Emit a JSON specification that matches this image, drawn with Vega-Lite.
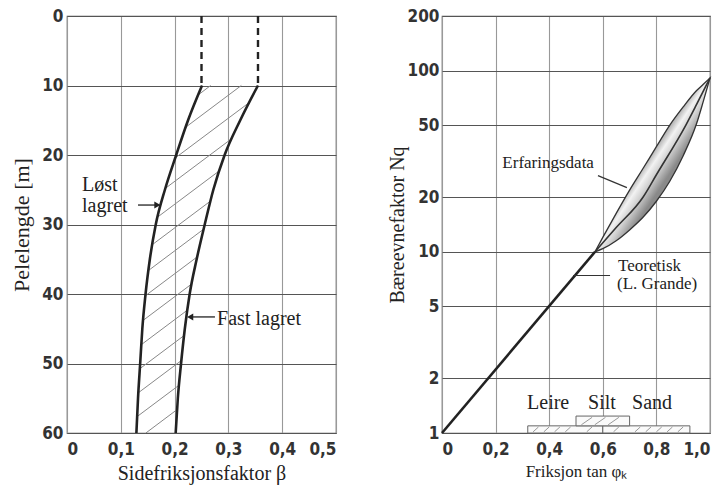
{
  "$schema": "https://vega.github.io/schema/vega-lite/v6.json",
  "background": "white",
  "padding": {"left": 10, "top": 6, "right": 5, "bottom": 5},
  "spacing": 49,
  "config": {
    "view": {"stroke": "#555", "strokeWidth": 1.2},
    "axis": {
      "labelFont": "DejaVu Sans Condensed",
      "labelFontSize": 17,
      "labelFontWeight": "bold",
      "labelColor": "#333",
      "titleFont": "Liberation Serif",
      "titleFontWeight": "normal",
      "titleColor": "#222",
      "ticks": false,
      "domain": false,
      "gridWidth": 1.1
    },
    "text": {"font": "Liberation Serif", "color": "#222"}
  },
  "hconcat": [
    {
      "width": 269,
      "height": 417,
      "encoding": {
        "x": {
          "field": "x", "type": "quantitative",
          "scale": {"domain": [0, 0.5], "nice": false, "zero": false},
          "axis": {
            "values": [0, 0.1, 0.2, 0.3, 0.4, 0.5],
            "labelExpr": "datum.value == 0 ? '0' : replace(format(datum.value, '.1f'), '.', ',')",
            "title": "Sidefriksjonsfaktor β",
            "titleFontSize": 20,
            "labelPadding": 8,
            "titlePadding": 6,
            "gridColor": "#999"
          }
        },
        "y": {
          "field": "y", "type": "quantitative",
          "scale": {"domain": [0, 60], "reverse": true, "nice": false, "zero": false},
          "axis": {
            "values": [0, 10, 20, 30, 40, 50, 60],
            "title": "Pelelengde [m]",
            "titleFontSize": 22,
            "labelPadding": 4,
            "titlePadding": 8,
            "gridColor": "#555"
          }
        }
      },
      "layer": [
        {
          "data": {"values": [
            {"x": 0.244, "y": 11.35, "x2": 0.267, "y2": 10},
            {"x": 0.2207, "y": 16.0, "x2": 0.324, "y2": 10},
            {"x": 0.201, "y": 20.44, "x2": 0.339, "y2": 12.44},
            {"x": 0.183, "y": 24.79, "x2": 0.307, "y2": 17.6},
            {"x": 0.1686, "y": 28.92, "x2": 0.2834, "y2": 22.26},
            {"x": 0.1586, "y": 32.9, "x2": 0.2669, "y2": 26.62},
            {"x": 0.1514, "y": 36.62, "x2": 0.254, "y2": 30.67},
            {"x": 0.1457, "y": 40.25, "x2": 0.242, "y2": 34.66},
            {"x": 0.1414, "y": 43.8, "x2": 0.2317, "y2": 38.56},
            {"x": 0.1381, "y": 47.29, "x2": 0.2238, "y2": 42.32},
            {"x": 0.1355, "y": 50.74, "x2": 0.2176, "y2": 45.98},
            {"x": 0.1328, "y": 54.2, "x2": 0.2126, "y2": 49.57},
            {"x": 0.1305, "y": 57.63, "x2": 0.2083, "y2": 53.12},
            {"x": 0.1466, "y": 60, "x2": 0.2048, "y2": 56.62}
          ]},
          "mark": {"type": "rule", "color": "#888", "strokeWidth": 1},
          "encoding": {"x2": {"field": "x2"}, "y2": {"field": "y2"}}
        },
        {
          "data": {"values": [
            {"c": "Løst", "y": 10, "x": 0.251},
            {"c": "Løst", "y": 15, "x": 0.225},
            {"c": "Løst", "y": 20, "x": 0.203},
            {"c": "Løst", "y": 25, "x": 0.182},
            {"c": "Løst", "y": 30, "x": 0.165},
            {"c": "Løst", "y": 35, "x": 0.154},
            {"c": "Løst", "y": 40, "x": 0.146},
            {"c": "Løst", "y": 45, "x": 0.140},
            {"c": "Løst", "y": 50, "x": 0.136},
            {"c": "Løst", "y": 55, "x": 0.132},
            {"c": "Løst", "y": 60, "x": 0.129},
            {"c": "Fast", "y": 10, "x": 0.355},
            {"c": "Fast", "y": 15, "x": 0.322},
            {"c": "Fast", "y": 20, "x": 0.293},
            {"c": "Fast", "y": 25, "x": 0.272},
            {"c": "Fast", "y": 30, "x": 0.256},
            {"c": "Fast", "y": 35, "x": 0.241},
            {"c": "Fast", "y": 40, "x": 0.228},
            {"c": "Fast", "y": 45, "x": 0.219},
            {"c": "Fast", "y": 50, "x": 0.212},
            {"c": "Fast", "y": 55, "x": 0.206},
            {"c": "Fast", "y": 60, "x": 0.202}
          ]},
          "mark": {"type": "line", "color": "#222", "strokeWidth": 2.6, "interpolate": "monotone"},
          "encoding": {"detail": {"field": "c"}, "order": {"field": "y", "type": "quantitative"}}
        },
        {
          "data": {"values": [
            {"x": 0.25, "y": 0, "y2": 10},
            {"x": 0.355, "y": 0, "y2": 10}
          ]},
          "mark": {"type": "rule", "color": "#222", "strokeWidth": 2.4, "strokeDash": [7, 5]},
          "encoding": {"y2": {"field": "y2"}}
        },
        {
          "data": {"values": [
            {"x": 0.132, "x2": 0.166, "y": 27.2},
            {"x": 0.275, "x2": 0.232, "y": 43.3}
          ]},
          "mark": {"type": "rule", "color": "#222", "strokeWidth": 1.3},
          "encoding": {"x2": {"field": "x2"}}
        },
        {
          "data": {"values": [
            {"x": 0.168, "y": 27.2, "s": "triangle-right"},
            {"x": 0.229, "y": 43.3, "s": "triangle-left"}
          ]},
          "mark": {"type": "point", "filled": true, "color": "#222", "size": 50, "opacity": 1},
          "encoding": {"shape": {"field": "s", "type": "nominal", "scale": null, "legend": null}}
        },
        {
          "data": {"values": [
            {"x": 0.028, "y": 24.3, "t": "Løst"},
            {"x": 0.028, "y": 27.4, "t": "lagret"},
            {"x": 0.279, "y": 43.6, "t": "Fast lagret"}
          ]},
          "mark": {"type": "text", "align": "left", "baseline": "middle", "fontSize": 20},
          "encoding": {"text": {"field": "t"}}
        }
      ]
    },
    {
      "width": 268,
      "height": 417,
      "encoding": {
        "x": {
          "field": "x", "type": "quantitative",
          "scale": {"domain": [0, 1], "nice": false, "zero": false},
          "axis": {
            "values": [0, 0.2, 0.4, 0.6, 0.8, 1.0],
            "labelExpr": "datum.value == 0 ? '0' : replace(format(datum.value, '.1f'), '.', ',')",
            "title": "Friksjon tan φₖ",
            "titleFontSize": 17,
            "labelPadding": 8,
            "titlePadding": 6,
            "gridColor": "#999"
          }
        },
        "y": {
          "field": "y", "type": "quantitative",
          "scale": {"type": "log", "domain": [1, 200], "nice": false},
          "axis": {
            "values": [1, 2, 5, 10, 20, 50, 100, 200],
            "format": "d",
            "title": "Bæreevnefaktor Nq",
            "titleFontSize": 20,
            "labelPadding": 3,
            "titlePadding": 0,
            "gridColor": "#555"
          }
        }
      },
      "layer": [
        {
          "data": {"values": [
            {"x": 0.571, "y": 10, "y2": 10},
            {"x": 0.6, "y": 12.0, "y2": 10.4},
            {"x": 0.65, "y": 16.3, "y2": 11.5},
            {"x": 0.7, "y": 21.9, "y2": 13.2},
            {"x": 0.75, "y": 28.8, "y2": 15.5},
            {"x": 0.8, "y": 38, "y2": 19.0},
            {"x": 0.85, "y": 50, "y2": 24.5},
            {"x": 0.9, "y": 63, "y2": 33.9},
            {"x": 0.95, "y": 77.6, "y2": 51},
            {"x": 0.975, "y": 84, "y2": 67.6},
            {"x": 1.0, "y": 91, "y2": 91}
          ]},
          "mark": {
            "type": "area",
            "interpolate": "monotone",
            "stroke": "#333",
            "strokeWidth": 1.3,
            "opacity": 1,
            "fill": {
              "gradient": "linear", "x1": 0, "y1": 0, "x2": 1, "y2": 1,
              "stops": [
                {"offset": 0, "color": "#555555"},
                {"offset": 0.4, "color": "#777777"},
                {"offset": 0.47, "color": "#bdbdbd"},
                {"offset": 0.5, "color": "#f2f2f2"},
                {"offset": 0.54, "color": "#d0d0d0"},
                {"offset": 0.6, "color": "#8a8a8a"},
                {"offset": 1, "color": "#666666"}
              ]
            }
          },
          "encoding": {"y2": {"field": "y2"}}
        },
        {
          "data": {"values": [
            {"x": 0, "y": 1},
            {"x": 0.571, "y": 10}
          ]},
          "mark": {"type": "line", "color": "#222", "strokeWidth": 2.6},
          "encoding": {}
        },
        {
          "data": {"values": [
            {"x": 0.571, "y": 10},
            {"x": 0.65, "y": 13.6},
            {"x": 0.75, "y": 20},
            {"x": 0.8, "y": 26.6},
            {"x": 0.91, "y": 50},
            {"x": 0.95, "y": 65},
            {"x": 1.0, "y": 91}
          ]},
          "mark": {"type": "line", "color": "#333", "strokeWidth": 1.6, "interpolate": "monotone"},
          "encoding": {}
        },
        {
          "data": {"values": [
            {"x": 0.32, "x2": 0.6, "y": 1, "y2": 1.095},
            {"x": 0.6, "x2": 0.925, "y": 1, "y2": 1.095},
            {"x": 0.5, "x2": 0.7, "y": 1.095, "y2": 1.24}
          ]},
          "mark": {"type": "rect", "fill": "#fafafa", "stroke": "#666", "strokeWidth": 1},
          "encoding": {"x2": {"field": "x2"}, "y2": {"field": "y2"}}
        },
        {
          "data": {"values": [
            {"x": 0.34, "y": 1.015, "x2": 0.36, "y2": 1.08},
            {"x": 0.38, "y": 1.015, "x2": 0.40, "y2": 1.08},
            {"x": 0.42, "y": 1.015, "x2": 0.44, "y2": 1.08},
            {"x": 0.46, "y": 1.015, "x2": 0.48, "y2": 1.08},
            {"x": 0.54, "y": 1.015, "x2": 0.56, "y2": 1.08},
            {"x": 0.64, "y": 1.015, "x2": 0.66, "y2": 1.08},
            {"x": 0.72, "y": 1.015, "x2": 0.74, "y2": 1.08},
            {"x": 0.76, "y": 1.015, "x2": 0.78, "y2": 1.08},
            {"x": 0.80, "y": 1.015, "x2": 0.82, "y2": 1.08},
            {"x": 0.84, "y": 1.015, "x2": 0.86, "y2": 1.08},
            {"x": 0.88, "y": 1.015, "x2": 0.90, "y2": 1.08},
            {"x": 0.52, "y": 1.11, "x2": 0.56, "y2": 1.22},
            {"x": 0.57, "y": 1.11, "x2": 0.61, "y2": 1.22},
            {"x": 0.62, "y": 1.11, "x2": 0.66, "y2": 1.22}
          ]},
          "mark": {"type": "rule", "color": "#999", "strokeWidth": 1},
          "encoding": {"x2": {"field": "x2"}, "y2": {"field": "y2"}}
        },
        {
          "data": {"values": [
            {"x": 0.582, "y": 26.3, "x2": 0.69, "y2": 22.6},
            {"x": 0.489, "y": 7.4, "x2": 0.627, "y2": 7.4}
          ]},
          "mark": {"type": "rule", "color": "#333", "strokeWidth": 1.2},
          "encoding": {"x2": {"field": "x2"}, "y2": {"field": "y2"}}
        },
        {
          "data": {"values": [
            {"x": 0.396, "y": 30.7, "t": "Erfaringsdata"}
          ]},
          "mark": {"type": "text", "baseline": "middle", "align": "center", "fontSize": 17},
          "encoding": {"text": {"field": "t"}}
        },
        {
          "data": {"values": [
            {"x": 0.657, "y": 8.3, "t": "Teoretisk"},
            {"x": 0.653, "y": 6.6, "t": "(L. Grande)"}
          ]},
          "mark": {"type": "text", "baseline": "middle", "align": "left", "fontSize": 17},
          "encoding": {"text": {"field": "t"}}
        },
        {
          "data": {"values": [
            {"x": 0.396, "y": 1.47, "t": "Leire"},
            {"x": 0.597, "y": 1.47, "t": "Silt"},
            {"x": 0.784, "y": 1.47, "t": "Sand"}
          ]},
          "mark": {"type": "text", "baseline": "middle", "align": "center", "fontSize": 20},
          "encoding": {"text": {"field": "t"}}
        }
      ]
    }
  ]
}
